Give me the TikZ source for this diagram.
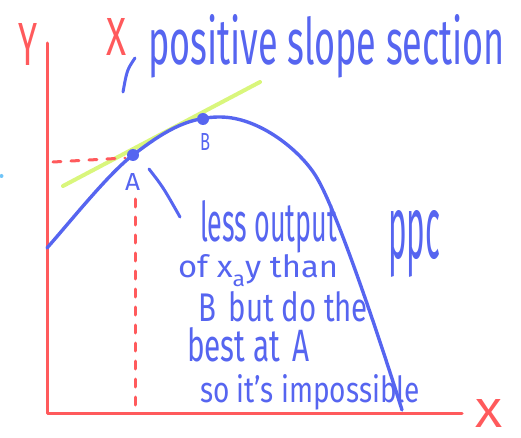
\documentclass[tikz,border=0pt]{standalone}
\usepackage{fontspec}
\setmainfont{Fira Sans}
\usepackage{graphicx}
\definecolor{penblue}{HTML}{5665F0}
\definecolor{penred}{HTML}{FF5A5C}
\definecolor{pengreen}{HTML}{D9F67C}
\definecolor{dotblue}{HTML}{70C4F8}
\newcommand{\fitbox}[3]{\resizebox{#1pt}{#2pt}{#3}}
\newcommand{\fitnd}[3]{\resizebox{#1pt}{#2pt}{\raisebox{0pt}[\height][0pt]{#3}}}
\tikzset{
  hand/.style={anchor=north west, inner sep=0pt, outer sep=0pt},
  bluetext/.style={hand, text=penblue},
  redtext/.style={hand, text=penred},
  axisline/.style={draw=penred, line width=3pt, line cap=round, line join=round},
  guide/.style={draw=penred, line width=3pt, line cap=round, dash pattern=on 8pt off 10pt},
  curveline/.style={draw=penblue, line width=3.4pt, line cap=round},
  stroke/.style={draw=penblue, line width=3pt, line cap=round},
  tangent/.style={draw=pengreen, line width=4pt, line cap=round},
  dot/.style={circle, fill=penblue, inner sep=0pt, minimum size=12pt},
}
\begin{document}
\begin{tikzpicture}[x=1pt, y=-1pt]
\useasboundingbox (0,0) rectangle (521,438);
% axes
\coordinate (ytop) at (47,43);
\coordinate (origin) at (47,413);
\coordinate (xend) at (462,413);
\draw[axisline] (ytop) -- (origin) -- (xend);
% tangent
\coordinate (t1) at (63,186);
\coordinate (t2) at (260,82);
\draw[tangent] (t1) -- (t2);
% dashed guides
\coordinate (h1) at (53,162);
\coordinate (h2) at (125,158);
\coordinate (v1) at (135,199);
\coordinate (v2) at (135,413);
\draw[guide] (h1) -- (h2);
\draw[guide] (v1) -- (v2);
% curve
\coordinate (c0) at (47,248);
\coordinate (cA) at (133,155);
\coordinate (cpk) at (220,117);
\coordinate (cm) at (317,178);
\coordinate (cend) at (402,410);
\draw[curveline] (c0) .. controls (70,222) and (109,173) .. (cA)
  .. controls (161,134) and (185,117) .. (cpk)
  .. controls (260,117) and (302,152) .. (cm)
  .. controls (340,217) and (387,362) .. (cend);
\node[dot] (A) at (133,155) {};
\node[dot] (B) at (203,119) {};
% strokes
\draw[stroke] (135,58) .. controls (127,70) .. (123,92);
\draw[stroke] (149,169) .. controls (163,187) .. (180,217);
% small dot at left edge
\fill[dotblue] (1.5,176) circle (2pt);
% labels
\node[redtext] (ylab) at (18,23) {\fitbox{19}{42}{Y}};
\node[redtext] (xtop) at (106,18) {\fitbox{20}{37}{X}};
\node[redtext] (xlab) at (475,399) {\fitbox{27}{28}{X}};
\node[bluetext] (alab) at (125,173) {\fitbox{15}{17}{A}};
\node[bluetext] (blab) at (200,133) {\fitbox{10}{17}{B}};
\node[bluetext] (pos) at (148,14) {\fitbox{357}{50}{positive slope section}};
\node[bluetext] (l1) at (200,200) {\fitbox{137}{41}{less output}};
\node[bluetext] (l2) at (178,254) {\fitnd{160}{23}{of x\raisebox{-3pt}{\scriptsize a}y than}};
\node[bluetext] (l3) at (198,291) {\fitbox{170}{30}{B \,but do the}};
\node[bluetext] (l4) at (187,327) {\fitbox{123}{34}{best at \,A}};
\node[bluetext] (l5) at (200,374) {\fitbox{220}{28}{so it's impossible}};
\node[bluetext] (ppc) at (388,210) {\fitbox{52}{48}{ppc}};
\end{tikzpicture}
\end{document}
